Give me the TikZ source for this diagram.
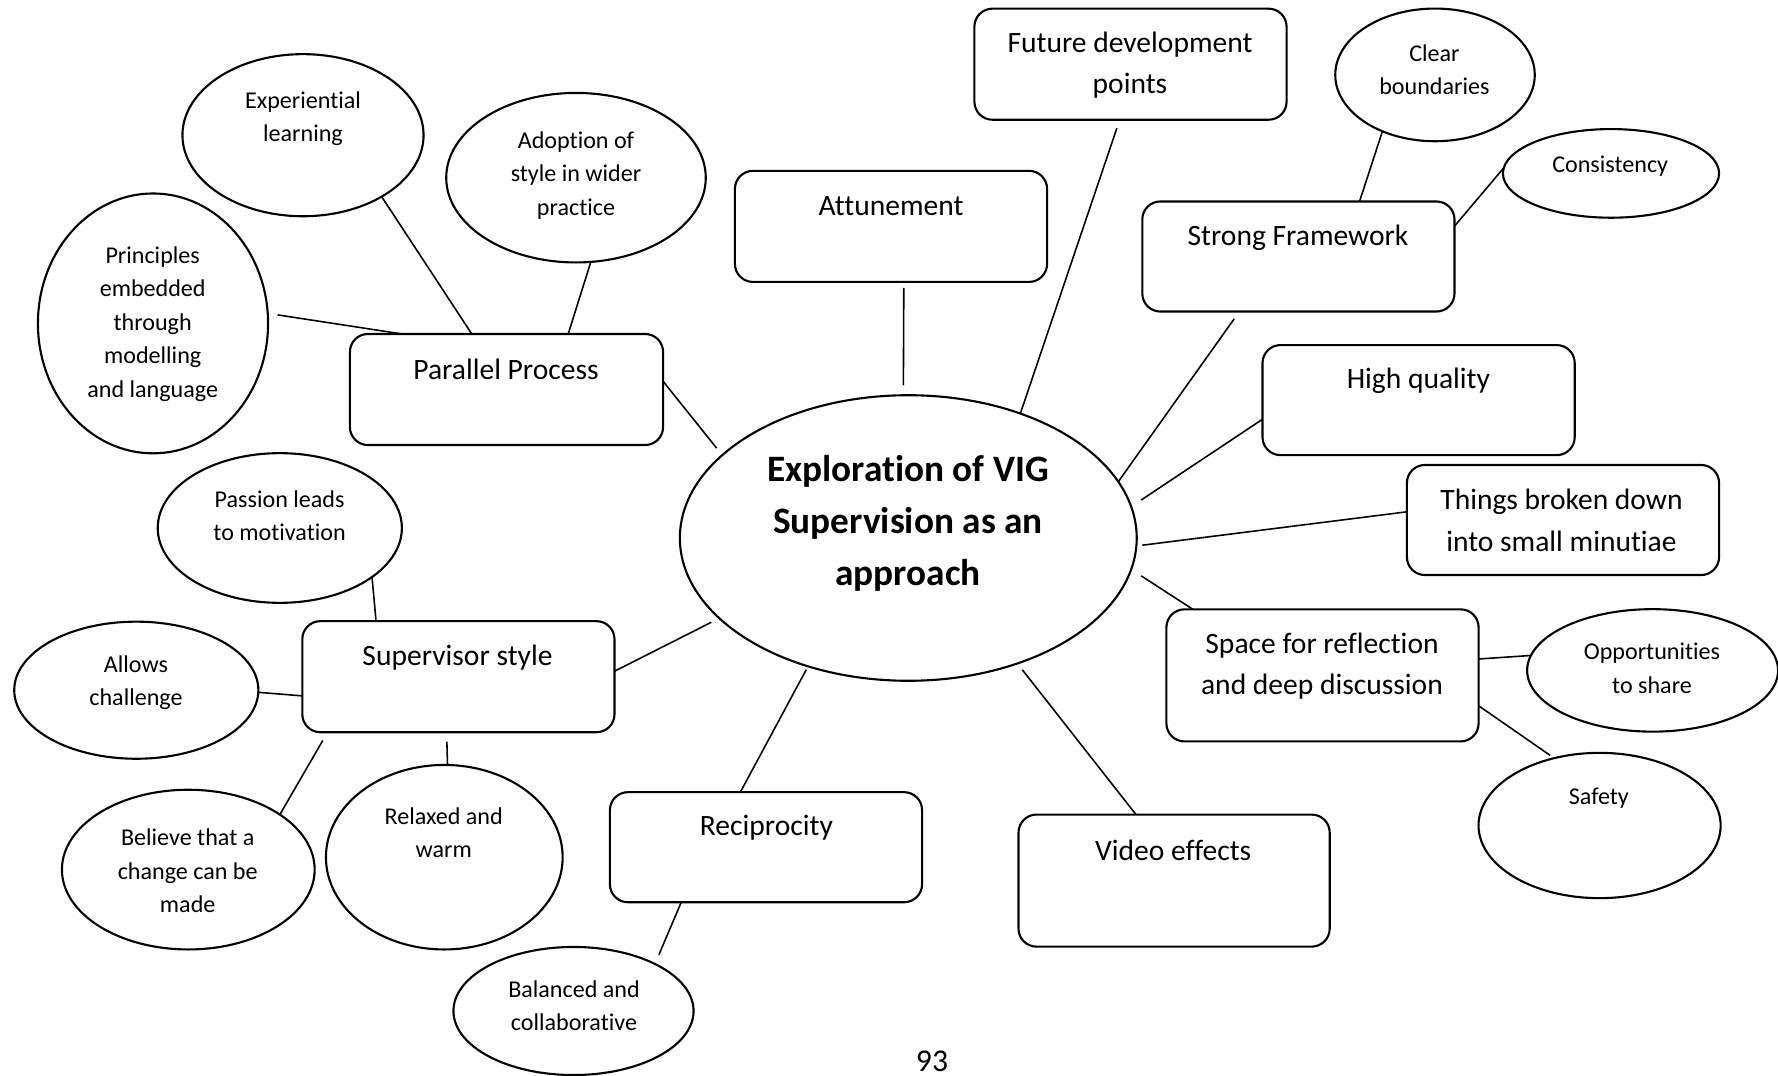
\documentclass[tikz,border=0pt]{standalone}
\usepackage{fontspec}
\setmainfont{Carlito}[RawFeature={-liga;-calt;-clig;-dlig}]
\usetikzlibrary{shapes.geometric}

\begin{document}
\begin{tikzpicture}[x=0.01cm, y=-0.01cm,
  box/.style={draw, rounded corners=0.18cm, line width=0.6pt, inner sep=0pt, outer sep=0pt},
  oval/.style={draw, ellipse, line width=0.6pt, inner sep=0pt, outer sep=0pt},
  link/.style={line width=0.45pt},
  boxtext/.style={font=\fontsize{8.4}{11.8}\selectfont, align=center, inner sep=0pt},
  ovaltext/.style={font=\fontsize{6.85}{9.5}\selectfont, align=center, inner sep=0pt},
  hubtext/.style={font=\fontsize{10.6}{14.8}\selectfont\bfseries, align=center, inner sep=0pt},
]
\useasboundingbox (0,0) rectangle (1778,1076);
\fill[white] (0,0) rectangle (1778,1076);

% central theme
\node[oval, minimum width=4.566cm, minimum height=2.854cm] (ctr) at (908.3,538) {};
\node[hubtext] (ctr-t) at (908,523) {Exploration of VIG\\Supervision as an\\approach};

% themes in rounded boxes
\node[box, minimum width=3.12cm, minimum height=1.11cm] (fut) at (1130.5,64.2) {};
\node[box, minimum width=3.12cm, minimum height=1.11cm] (att) at (891,226.4) {};
\node[box, minimum width=3.13cm, minimum height=1.11cm] (pp)  at (506.5,389.5) {};
\node[box, minimum width=3.12cm, minimum height=1.10cm] (sf)  at (1298.4,256.5) {};
\node[box, minimum width=3.12cm, minimum height=1.10cm] (hq)  at (1418.6,400.1) {};
\node[box, minimum width=3.12cm, minimum height=1.10cm] (tb)  at (1563,520) {};
\node[box, minimum width=3.12cm, minimum height=1.32cm] (sp)  at (1322.5,675.4) {};
\node[box, minimum width=3.12cm, minimum height=1.11cm] (sv)  at (458.4,676.7) {};
\node[box, minimum width=3.12cm, minimum height=1.10cm] (rec) at (766,847.2) {};
\node[box, minimum width=3.11cm, minimum height=1.32cm] (vid) at (1174.1,880.6) {};

\node[boxtext] (fut-t) at (1130,65) {Future development\\points};
\node[boxtext] (att-t) at (891,206) {Attunement};
\node[boxtext] (pp-t)  at (506,369.5) {Parallel Process};
\node[boxtext] (sf-t)  at (1298,237.5) {Strong Framework};
\node[boxtext] (hq-t)  at (1418.4,381) {High quality};
\node[boxtext] (tb-t)  at (1561.5,520.5) {Things broken down\\into small minutiae};
\node[boxtext] (sp-t)  at (1322,666) {Space for reflection\\and deep discussion};
\node[boxtext] (sv-t)  at (457.5,657.5) {Supervisor style};
\node[boxtext] (rec-t) at (766.4,827.5) {Reciprocity};
\node[boxtext] (vid-t) at (1173.2,850) {Video effects};

% sub-themes in ellipses
\node[oval, minimum width=2.41cm,  minimum height=1.62cm]  (exp) at (303,135.2) {};
\node[oval, minimum width=2.594cm, minimum height=1.694cm] (ado) at (576,177.7) {};
\node[oval, minimum width=2.30cm,  minimum height=2.597cm] (pri) at (153,323.4) {};
\node[oval, minimum width=2.44cm,  minimum height=1.496cm] (pas) at (279.8,528) {};
\node[oval, minimum width=2.44cm,  minimum height=1.37cm]  (all) at (136.3,690.2) {};
\node[oval, minimum width=2.526cm, minimum height=1.596cm] (bel) at (188.3,869.6) {};
\node[oval, minimum width=2.366cm, minimum height=1.844cm] (rel) at (444.3,857.2) {};
\node[oval, minimum width=2.40cm,  minimum height=1.28cm]  (bal) at (573.5,1011) {};
\node[oval, minimum width=1.994cm, minimum height=1.326cm] (clr) at (1435,74.9) {};
\node[oval, minimum width=2.16cm,  minimum height=0.886cm] (con) at (1611,173.4) {};
\node[oval, minimum width=2.508cm, minimum height=1.224cm] (opp) at (1652.6,670.4) {};
\node[oval, minimum width=2.42cm,  minimum height=1.452cm] (saf) at (1599.6,825.5) {};

\node[ovaltext] (exp-t) at (303,119) {Experiential\\learning};
\node[ovaltext] (ado-t) at (576,175.5) {Adoption of\\style in wider\\practice};
\node[ovaltext] (pri-t) at (152.7,324) {Principles\\embedded\\through\\modelling\\and language};
\node[ovaltext] (pas-t) at (279.6,516) {Passion leads\\to motivation};
\node[ovaltext] (all-t) at (136,682.5) {Allows\\challenge};
\node[ovaltext] (bel-t) at (187.7,871) {Believe that a\\change can be\\made};
\node[ovaltext] (rel-t) at (443.7,832.5) {Relaxed and\\warm};
\node[ovaltext] (bal-t) at (574,1006) {Balanced and\\collaborative};
\node[ovaltext] (clr-t) at (1434.4,69.5) {Clear\\boundaries};
\node[ovaltext] (con-t) at (1610.2,166.5) {Consistency};
\node[ovaltext] (opp-t) at (1652,668.5) {Opportunities\\to share};
\node[ovaltext] (saf-t) at (1598.8,798) {Safety};

% page number
\node[font=\fontsize{9}{11}\selectfont, inner sep=0pt] (pg) at (932,1061) {93};

% connectors
\draw[link, shorten <=0.1cm] (pri.5.5) -- (pp.152.7);
\draw[link] (exp.-38.6) -- (pp.122.8);
\draw[link] (ado.-80.7) -- (pp.42.7);
\draw[link, shorten >=0.09cm] (pp.3.3) -- (ctr.156.8);
\draw[link, shorten <=0.06cm, shorten >=0.1cm] (att.-77.8) -- (ctr.92.1);
\draw[link, shorten <=0.09cm] (fut.-101.9) -- (ctr.48.05);
\draw[link] (clr.-133.9) -- (sf.42.7);
\draw[link] (con.177.9) -- (sf.11.6);
\draw[link, shorten <=0.09cm] (sf.-137.1) -- (ctr.15.4);
\draw[link, shorten >=0.12cm] (hq.-173.3) -- (ctr.8.55);
\draw[link, shorten >=0.06cm] (tb.177.6) -- (ctr.-2.84);
\draw[link, shorten <=0.12cm] (ctr.-8.53) -- (sp.153.6);
\draw[link] (sp.6.84) -- (opp.173.8);
\draw[link, shorten >=0.05cm] (sp.-11.3) -- (saf.124);
\draw[link, shorten <=0.08cm] (ctr.-49.3) -- (vid.120);
\draw[link, shorten <=0.04cm] (ctr.-128.1) -- (rec.115.9);
\draw[link, shorten >=0.1cm] (rec.-147.4) -- (bal.30.6);
\draw[link, shorten <=0.09cm] (ctr.-157) -- (sv.2.86);
\draw[link] (pas.-28.5) -- (sv.146.7);
\draw[link] (all.-1.6) -- (sv.-173.8);
\draw[link, shorten <=0.095cm] (sv.-157.3) -- (bel.31.7);
\draw[link, shorten <=0.095cm] (sv.-102) -- (rel.88.6);
\end{tikzpicture}
\end{document}
